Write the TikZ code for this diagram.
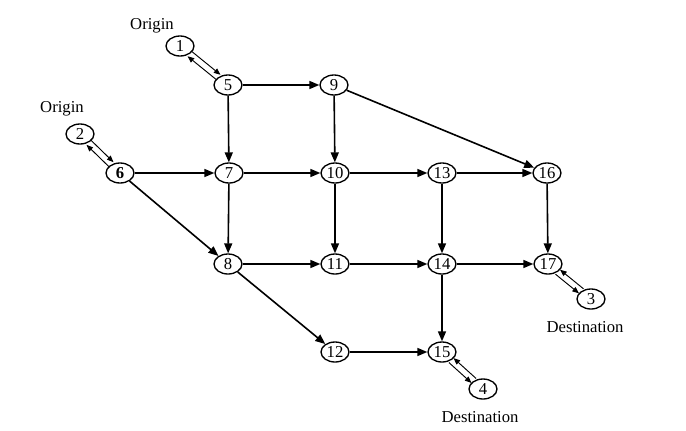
\documentclass[tikz,border=0pt]{standalone}
\usepackage{fontspec}
\setmainfont{Liberation Serif}
\usetikzlibrary{shapes.geometric, arrows.meta, positioning}
\tikzset{
  % nodo della rete
  vnode/.style={ellipse, draw=black, line width=1pt, fill=white, minimum width=21pt,
    minimum height=15pt, inner sep=0pt, font=\fontsize{12.5}{14}\selectfont},
  % arco principale
  link/.style={line width=1.2pt, -{Triangle[length=7.5pt, width=6pt]}},
  % coppia di archi sottili (origine / destinazione)
  pairup/.style={line width=0.7pt, -{Triangle[length=5pt, width=4pt]},
    transform canvas={shift={(1.7pt,1.7pt)}}},
  pairdown/.style={line width=0.7pt, -{Triangle[length=5pt, width=4pt]},
    transform canvas={shift={(-1.7pt,-1.7pt)}}},
  % etichette
  lbl/.style={font=\fontsize{12.5}{14}\selectfont},
}
\begin{document}
\begin{tikzpicture}[x=0.75pt, y=-0.75pt]
  \useasboundingbox (0,0) rectangle (686,430);
  \node[vnode] (n1) at (180,46) {1};
  \node[vnode] (n2) at (80,134) {2};
  \node[vnode] (n3) at (591,299) {3};
  \node[vnode] (n4) at (483,389) {4};
  \node[vnode] (n5) at (228,85) {5};
  \node[vnode] (n6) at (120,173) {\textbf{6}};
  \node[vnode] (n7) at (229,173) {7};
  \node[vnode] (n8) at (228,264) {8};
  \node[vnode] (n9) at (334,85) {9};
  \node[vnode] (n10) at (335,173) {10};
  \node[vnode] (n11) at (335,264) {11};
  \node[vnode] (n12) at (335,352) {12};
  \node[vnode] (n13) at (442,173) {13};
  \node[vnode] (n14) at (442,264) {14};
  \node[vnode] (n15) at (442,352) {15};
  \node[vnode] (n16) at (547,173) {16};
  \node[vnode] (n17) at (548,264) {17};
  \node[lbl] (o1) at (152,26) {Origin};
  \node[lbl] (o2) at (62,109) {Origin};
  \node[lbl] (d3) at (585,327) {Destination};
  \node[lbl] (d4) at (480,417) {Destination};
  % archi principali
  \draw[link] (n5) -- (n9);
  \draw[link] (n5) -- (n7);
  \draw[link] (n9) -- (n10);
  \draw[link] (n9) -- (n16);
  \draw[link] (n6) -- (n7);
  \draw[link] (n6) -- (n8);
  \draw[link] (n7) -- (n10);
  \draw[link] (n7) -- (n8);
  \draw[link] (n10) -- (n13);
  \draw[link] (n10) -- (n11);
  \draw[link] (n13) -- (n16);
  \draw[link] (n13) -- (n14);
  \draw[link] (n16) -- (n17);
  \draw[link] (n8) -- (n11);
  \draw[link] (n8) -- (n12);
  \draw[link] (n11) -- (n14);
  \draw[link] (n14) -- (n17);
  \draw[link] (n14) -- (n15);
  \draw[link] (n12) -- (n15);
  % origini e destinazioni
  \draw[pairup] (n1) -- (n5);
  \draw[pairdown] (n5) -- (n1);
  \draw[pairup] (n2) -- (n6);
  \draw[pairdown] (n6) -- (n2);
  \draw[pairup] (n3) -- (n17);
  \draw[pairdown] (n17) -- (n3);
  \draw[pairup] (n4) -- (n15);
  \draw[pairdown] (n15) -- (n4);
\end{tikzpicture}
\end{document}
